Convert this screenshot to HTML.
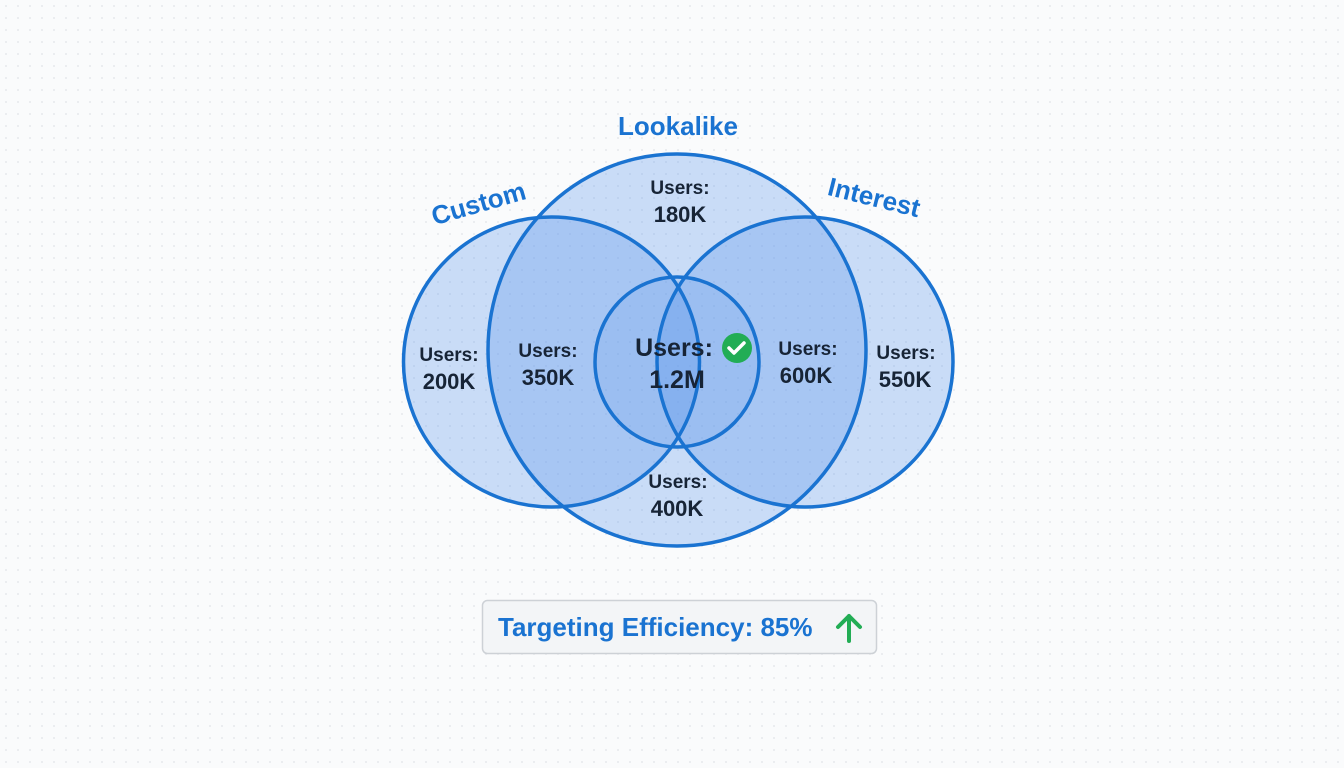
<!DOCTYPE html>
<html><head><meta charset="utf-8"><style>
html,body{margin:0;padding:0;background:#fafbfc;}
body{width:1344px;height:768px;overflow:hidden;font-family:"Liberation Sans",sans-serif;
background-image:radial-gradient(#e6e8ec 1px,transparent 1px);background-size:12px 12px;}
</style></head><body>
<svg width="1344" height="768" viewBox="0 0 1344 768" xmlns="http://www.w3.org/2000/svg" style="position:absolute;left:0;top:0">
<g fill="rgb(90,150,235)" fill-opacity="0.3" stroke="none">
<ellipse cx="551.5" cy="362" rx="148" ry="145"/>
<ellipse cx="677" cy="350" rx="189" ry="196"/>
<ellipse cx="805" cy="362" rx="148" ry="145"/>
<ellipse cx="677" cy="362" rx="82" ry="85" fill-opacity="0.15"/>
</g>
<g fill="none" stroke="#1a73d1" stroke-width="3.5">
<ellipse cx="551.5" cy="362" rx="148" ry="145"/>
<ellipse cx="677" cy="350" rx="189" ry="196"/>
<ellipse cx="805" cy="362" rx="148" ry="145"/>
<ellipse cx="677" cy="362" rx="82" ry="85"/>
</g>
<g font-family="Liberation Sans, sans-serif" font-weight="bold" fill="#1a73d1" font-size="26">
<text x="678" y="135" text-anchor="middle">Lookalike</text>
<text x="481" y="212" text-anchor="middle" transform="rotate(-16 481 212)">Custom</text>
<text x="872" y="206" text-anchor="middle" transform="rotate(14 872 206)">Interest</text>
</g>
<g font-family="Liberation Sans, sans-serif" font-weight="bold" fill="#172436" text-anchor="middle">
<text x="680" y="194" font-size="19">Users:</text><text x="680" y="222" font-size="22">180K</text>
<text x="449" y="361" font-size="19">Users:</text><text x="449" y="389" font-size="22">200K</text>
<text x="548" y="357" font-size="19">Users:</text><text x="548" y="385" font-size="22">350K</text>
<text x="674" y="356" font-size="25">Users:</text><text x="677" y="388" font-size="25">1.2M</text>
<text x="808" y="355" font-size="19">Users:</text><text x="806" y="383" font-size="22">600K</text>
<text x="906" y="359" font-size="19">Users:</text><text x="905" y="387" font-size="22">550K</text>
<text x="678" y="488" font-size="19">Users:</text><text x="677" y="516" font-size="22">400K</text>
</g>
<circle cx="737" cy="348" r="15" fill="#22ad55"/>
<path d="M729 348 l5 5 l10 -10" stroke="#fff" stroke-width="3.5" fill="none" stroke-linecap="round" stroke-linejoin="round"/>
<rect x="482.5" y="600.5" width="394" height="53" rx="5" fill="#f3f5f7" stroke="#cdd1d6" stroke-width="1.5"/>
<text x="498" y="636" font-family="Liberation Sans, sans-serif" font-weight="bold" font-size="26" fill="#1a73d1">Targeting Efficiency: 85%</text>
<path d="M849 641 V616 M838 627 L849 616 L860 627" stroke="#22ad55" stroke-width="4" fill="none" stroke-linecap="round" stroke-linejoin="round"/>
</svg>
</body></html>
